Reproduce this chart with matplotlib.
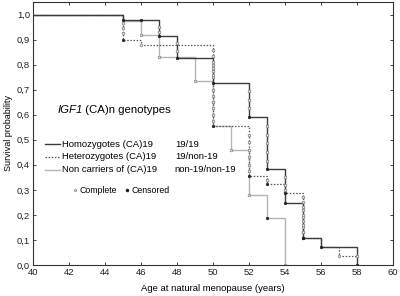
import matplotlib
matplotlib.use("Agg")
import matplotlib.pyplot as plt

plt.rcParams['font.family'] = ['Liberation Sans', 'DejaVu Sans']

# step curves (time of drop, survival after drop)
hom_t = [40, 45, 47, 48, 50, 52, 53, 54, 55, 56, 58]
hom_s = [1.0, 0.98, 0.913, 0.827, 0.727, 0.59, 0.383, 0.247, 0.107, 0.073, 0.0]
het_t = [40, 45, 46, 50, 52, 53, 54, 55, 56, 57, 58]
het_s = [1.0, 0.90, 0.88, 0.553, 0.356, 0.323, 0.287, 0.107, 0.073, 0.036, 0.036]
non_t = [40, 45, 46, 47, 49, 50, 51, 52, 53, 54]
non_s = [1.0, 0.975, 0.917, 0.83, 0.736, 0.553, 0.46, 0.28, 0.187, 0.0]

# observation markers
hom_comp_t = [47, 47, 48, 48, 50, 50, 50, 52, 52, 52, 53, 53, 53, 53, 53, 54, 54, 54, 55, 55, 55, 55, 55]
hom_comp_s = [0.95, 0.93, 0.885, 0.855, 0.80, 0.775, 0.75, 0.693, 0.66, 0.627, 0.553, 0.52, 0.487, 0.45, 0.415,
              0.35, 0.32, 0.29, 0.22, 0.2, 0.175, 0.15, 0.13]
hom_cens_t = [45, 46, 47, 48, 50, 52, 53, 54, 55, 56, 58]
hom_cens_s = [0.98, 0.98, 0.913, 0.827, 0.727, 0.59, 0.383, 0.247, 0.107, 0.073, 0.0]
het_comp_t = [45, 45, 45, 46, 50, 50, 50, 50, 50, 50, 50, 50, 50, 50, 50, 52, 52, 52, 52, 52, 52, 53, 54,
              55, 55, 55, 55, 55, 55, 57, 58]
het_comp_s = [0.965, 0.945, 0.925, 0.88, 0.86, 0.835, 0.81, 0.785, 0.76, 0.70, 0.675, 0.65, 0.625, 0.60, 0.575,
              0.52, 0.49, 0.46, 0.43, 0.40, 0.375, 0.34, 0.30, 0.27, 0.25, 0.23, 0.19, 0.16, 0.13, 0.036, 0.036]
het_cens_t = [45, 50, 52, 53, 54, 55]
het_cens_s = [0.90, 0.553, 0.356, 0.323, 0.287, 0.107]
non_comp_t = [46, 47, 49, 50, 51, 52, 54]
non_comp_s = [0.917, 0.83, 0.736, 0.65, 0.46, 0.28, 0.0]
non_cens_t = [53]
non_cens_s = [0.187]

xticks = list(range(40, 61, 2))
yticks = [i / 10 for i in range(11)]
ylabels = [f"{v:.1f}".replace('.', ',') for v in yticks]

hom_col = '#3c3c3c'
het_col = '#555555'
non_col = '#b4b4b4'
dots = (0, (1.2, 1.3))

fig = plt.figure(figsize=(4.0, 2.96), dpi=100)
ax = fig.add_axes([0.0825, 0.105, 0.9, 0.888])

ax.step(non_t, non_s, where='post', color=non_col, lw=1.0)
ax.step(het_t, het_s, where='post', color=het_col, lw=0.9, linestyle=dots)
ax.step(hom_t, hom_s, where='post', color=hom_col, lw=1.0)

for t, s in [(hom_comp_t, hom_comp_s), (het_comp_t, het_comp_s), (non_comp_t, non_comp_s)]:
    ax.plot(t, s, 'o', ms=1.9, mfc='#e8e8e8', mec='#7a7a7a', mew=0.5, ls='none')
for t, s in [(hom_cens_t, hom_cens_s), (het_cens_t, het_cens_s), (non_cens_t, non_cens_s)]:
    ax.plot(t, s, 'o', ms=1.9, mfc='#202020', mec='#202020', mew=0.4, ls='none')

ax.set_xlim(40, 60)
ax.set_ylim(0, 1.05)
ax.set_xticks(xticks)
ax.set_yticks(yticks)
ax.set_yticklabels(ylabels)
ax.tick_params(direction='in', length=2, width=0.6, labelsize=6.8, pad=2,
               top=True, right=True, colors='#222222')
for sp in ax.spines.values():
    sp.set_linewidth(0.8)
    sp.set_color('#333333')

ax.set_xlabel('Age at natural menopause (years)', fontsize=6.8, labelpad=5)
ax.set_ylabel('Survival probability', fontsize=6.5, labelpad=3)

# annotation block
t1 = ax.text(0.067, 0.589, 'IGF1', transform=ax.transAxes, fontsize=8.2,
             style='italic', va='center', ha='left')
ax.annotate(' (CA)n genotypes', xy=(1, 0.5), xycoords=t1, fontsize=8.2,
            va='center', ha='left')

rows = [('Homozygotes (CA)19', '19/19', '-', hom_col, 1.0),
        ('Heterozygotes (CA)19', '19/non-19', dots, het_col, 0.9),
        ('Non carriers of (CA)19', 'non-19/non-19', '-', non_col, 1.0)]
ys = [0.46, 0.411, 0.363]
for (lab, gen, ls, col, lw), y in zip(rows, ys):
    ax.plot([0.033, 0.075], [y, y], transform=ax.transAxes, color=col, ls=ls, lw=lw)
    ax.text(0.08, y, lab, transform=ax.transAxes, fontsize=6.8, va='center')
    ax.text(0.394, y, gen, transform=ax.transAxes, fontsize=6.8, va='center')

ax.plot([0.117], [0.285], 'o', transform=ax.transAxes, ms=1.6, mfc='#e8e8e8', mec='#7a7a7a', mew=0.5)
ax.text(0.13, 0.285, 'Complete', transform=ax.transAxes, fontsize=6.3, va='center')
ax.plot([0.262], [0.285], 'o', transform=ax.transAxes, ms=1.5, mfc='#202020', mec='#202020')
ax.text(0.275, 0.285, 'Censored', transform=ax.transAxes, fontsize=6.3, va='center')

fig.savefig('out.png', dpi=100)
